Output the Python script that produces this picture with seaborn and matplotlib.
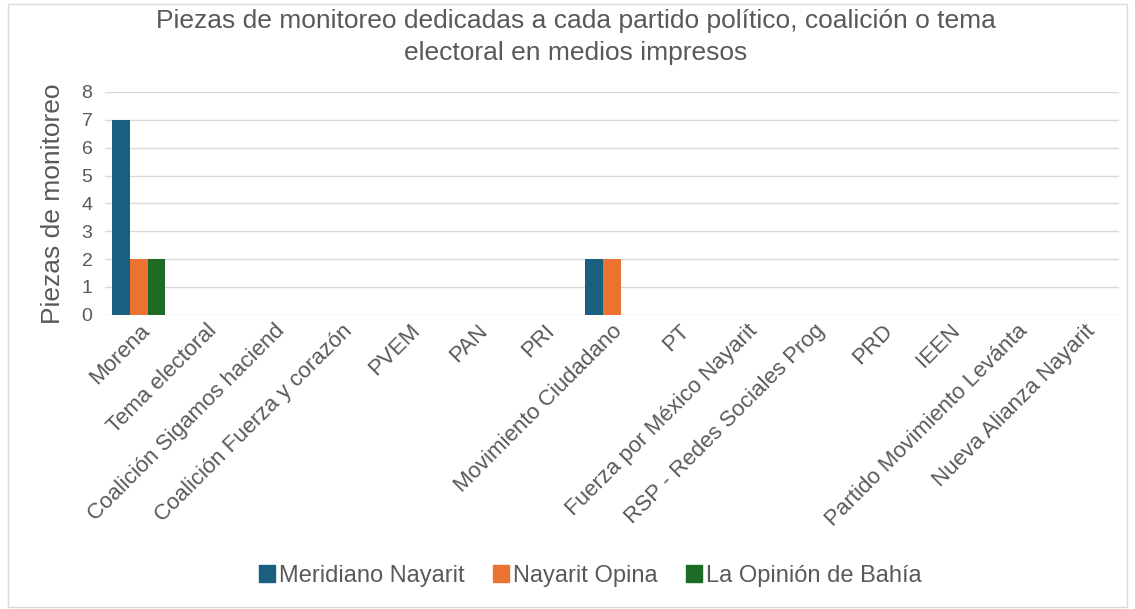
import pandas as pd
import matplotlib
matplotlib.use('Agg')
import matplotlib.pyplot as plt
import seaborn as sns

# Categories (labels truncated as in the original chart)
categorias = ['Morena', 'Tema electoral', 'Coalición Sigamos haciend',
              'Coalición Fuerza y corazón', 'PVEM', 'PAN', 'PRI',
              'Movimiento Ciudadano', 'PT', 'Fuerza por México Nayarit',
              'RSP - Redes Sociales Prog', 'PRD', 'IEEN',
              'Partido Movimiento Levánta', 'Nueva Alianza Nayarit']

meridiano = [7, 0, 0, 0, 0, 0, 0, 2, 0, 0, 0, 0, 0, 0, 0]
nayarit_opina = [2, 0, 0, 0, 0, 0, 0, 2, 0, 0, 0, 0, 0, 0, 0]
opinion_bahia = [2, 0, 0, 0, 0, 0, 0, 0, 0, 0, 0, 0, 0, 0, 0]

medios = ['Meridiano Nayarit', 'Nayarit Opina', 'La Opinión de Bahía']
colores = ['#1A5E80', '#EC7232', '#1D6B24']

df = pd.DataFrame({
    'Categoria': categorias * 3,
    'Medio': [m for m in medios for _ in categorias],
    'Piezas': meridiano + nayarit_opina + opinion_bahia,
})

sns.set_style('white')
plt.rcParams['font.family'] = ['Liberation Sans', 'DejaVu Sans']
gris = '#595959'

fig = plt.figure(figsize=(11.35, 6.09), dpi=100)
ax = fig.add_axes([0.0925, 0.483, 0.893, 0.366])

sns.barplot(data=df, x='Categoria', y='Piezas', hue='Medio', palette=colores,
            order=categorias, hue_order=medios, width=0.78, saturation=1,
            edgecolor='none', ax=ax)

ax.set_ylim(0, 8)
ax.set_yticks(range(0, 9))
ax.yaxis.grid(True, color='#D9D9D9', linewidth=1)
ax.set_axisbelow(True)
for s in ax.spines.values():
    s.set_visible(False)
ax.tick_params(axis='both', length=0, colors=gris)
ax.tick_params(axis='y', labelsize=14, pad=9)
ax.tick_params(axis='x', labelsize=16, pad=4)
plt.setp(ax.get_xticklabels(), rotation=45, ha='right', rotation_mode='anchor')
ax.set_xlabel('')
ax.set_ylabel('Piezas de monitoreo', color=gris, fontsize=19, labelpad=12)
ax.get_legend().remove()

fig.text(0.507, 0.985, 'Piezas de monitoreo dedicadas a cada partido político, coalición o tema\nelectoral en medios impresos',
         ha='center', va='top', color=gris, fontsize=19, linespacing=1.4)

handles = [plt.Rectangle((0, 0), 1, 1, color=c) for c in colores]
fig.legend(handles, medios, loc='center', bbox_to_anchor=(0.52, 0.055), ncol=3,
           frameon=False, fontsize=17, handlelength=0.7, handleheight=0.7,
           handletextpad=0.15, columnspacing=1.2, labelcolor=gris)

# light border around the chart area
fig.patches.append(plt.Rectangle((0.007, 0.003), 0.986, 0.99, transform=fig.transFigure,
                                 fill=False, edgecolor='#D9D9D9', linewidth=1))

fig.savefig('out.png', dpi=100)
